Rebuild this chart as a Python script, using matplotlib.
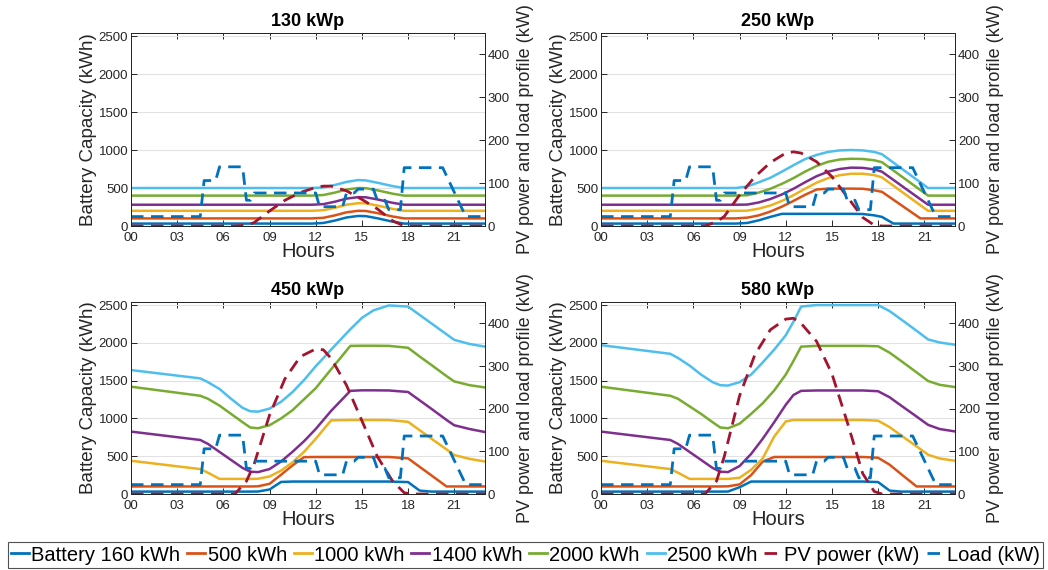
import matplotlib
matplotlib.use('Agg')
import matplotlib.pyplot as plt
from matplotlib.lines import Line2D

plt.rcParams['font.family'] = ['Liberation Sans', 'DejaVu Sans']

# Colores por defecto de MATLAB
colors = ['#0072BD', '#D95319', '#EDB120', '#7E2F8E', '#77AC30', '#4DBEEE']
pv_color = '#A2142F'
load_color = '#0072BD'
axc = '#262626'

battery_labels = ['Battery 160 kWh', '500 kWh', '1000 kWh', '1400 kWh', '2000 kWh', '2500 kWh']
panel_titles = ['130 kWp', '250 kWp', '450 kWp', '580 kWp']

# Perfil de carga (kW), igual en los cuatro casos
load_t = [0, 4.5, 4.75, 5.5, 5.75, 7.25, 7.5, 7.75, 8.0, 12.0, 12.25, 13.75, 14.0, 14.5,
          14.75, 15.75, 16.0, 16.5, 16.75, 17.5, 17.75, 20.25, 21.75, 23]
load_kw = [22, 22, 106, 106, 138, 138, 60, 60, 77, 77, 45, 45, 77, 77,
           86, 86, 60, 60, 38, 38, 136, 136, 22, 22]

# Potencia FV (kW)
pv_t = [0, 6.75, 7.5, 8, 9, 10, 11, 12, 12.5, 13, 14, 15, 16, 17, 17.75, 18.25, 23]
pv_130 = [0, 0, 2, 8, 35, 60, 78, 90, 93, 93, 82, 62, 40, 12, 0, 0, 0]
pv_250 = [0, 0, 10, 22, 72, 115, 148, 170, 173, 170, 150, 115, 68, 20, 2, 0, 0]
pv_450 = [0, 0, 30, 70, 185, 270, 322, 340, 338, 318, 255, 172, 88, 30, 3, 0, 0]
pv_580 = [0, 0, 30, 87, 230, 327, 385, 410, 412, 400, 358, 282, 168, 48, 6, 0, 0]

# Energia almacenada (kWh) - 130 kWp
t_130 = [0, 11.75, 12.5, 13.25, 14.0, 14.75, 15.25, 16.0, 17.0, 17.75, 23]
b130_160 = [32, 32, 40, 72, 112, 132, 130, 102, 57, 32, 32]
b130_500 = [100, 100, 108, 140, 180, 200, 198, 170, 125, 100, 100]
b130_1000 = [200, 200, 208, 240, 280, 300, 298, 270, 225, 200, 200]
b130_1400 = [280, 280, 288, 320, 360, 380, 378, 350, 305, 280, 280]
b130_2000 = [400, 400, 408, 440, 480, 500, 498, 470, 425, 400, 400]
b130_2500 = [500, 500, 508, 540, 580, 605, 600, 570, 525, 500, 500]

# 250 kWp
t_250 = [0, 8.75, 9.5, 10.25, 11.0, 11.75, 12.5, 13.25, 14.0, 14.75, 15.5, 16.25, 17.0,
         17.75, 18.25, 19.0, 20.0, 20.75, 21.25, 23]
b250_160 = [32, 32, 40, 75, 120, 160, 160, 160, 160, 160, 160, 160, 158, 140, 120, 32, 32, 32, 32, 32]
b250_500 = [100, 100, 110, 140, 190, 255, 330, 410, 480, 492, 492, 492, 490, 470, 450, 345, 205, 100, 100, 100]
b250_1000 = [200, 200, 202, 228, 270, 330, 405, 490, 570, 630, 668, 688, 688, 670, 640, 530, 383, 273, 200, 200]
b250_1400 = [280, 280, 282, 310, 355, 415, 490, 575, 655, 715, 750, 768, 765, 745, 715, 606, 461, 352, 280, 280]
b250_2000 = [400, 400, 405, 440, 490, 555, 630, 715, 790, 845, 875, 885, 882, 865, 840, 730, 583, 473, 400, 400]
b250_2500 = [500, 500, 520, 575, 635, 715, 800, 880, 935, 975, 995, 1000, 995, 975, 945, 834, 686, 574, 500, 500]

# 450 kWp
t_450 = [0, 4.5, 5.0, 5.75, 6.5, 7.25, 7.75, 8.25, 9.0, 9.75, 10.5, 11.25, 12.0, 13.0,
         14.25, 15.0, 15.75, 16.75, 18.0, 18.75, 19.5, 20.5, 21.0, 22.0, 23]
b450_160 = [32, 32, 32, 32, 32, 32, 32, 33, 60, 160, 165, 165, 165, 165,
            165, 165, 165, 165, 158, 45, 32, 32, 32, 32, 32]
b450_500 = [100, 100, 100, 100, 100, 100, 100, 102, 135, 255, 380, 488, 490, 490,
            490, 490, 490, 490, 472, 360, 249, 100, 100, 100, 100]
b450_1000 = [440, 330, 282, 200, 200, 200, 200, 202, 232, 310, 420, 560, 730, 975,
             980, 980, 980, 978, 955, 845, 735, 590, 516, 465, 430]
b450_1400 = [826, 715, 663, 557, 451, 345, 295, 290, 330, 430, 560, 700, 860, 1100,
             1365, 1372, 1372, 1370, 1350, 1240, 1130, 980, 910, 860, 820]
b450_2000 = [1420, 1300, 1260, 1170, 1060, 950, 880, 870, 910, 1000, 1110, 1255, 1400, 1650,
             1960, 1962, 1962, 1960, 1935, 1820, 1710, 1560, 1490, 1440, 1410]
b450_2500 = [1640, 1530, 1480, 1390, 1260, 1140, 1095, 1090, 1130, 1220, 1350, 1510, 1690, 1910,
             2180, 2330, 2430, 2495, 2480, 2370, 2260, 2113, 2040, 1985, 1950]

# 580 kWp
t_580 = [0, 4.5, 5.0, 5.75, 6.5, 7.25, 7.75, 8.25, 9.0, 9.75, 10.5, 11.25, 12.0, 12.5, 13.0,
         14.0, 15.0, 16.0, 17.0, 18.0, 18.75, 19.5, 20.5, 21.25, 22.0, 23]
b580_160 = [32, 32, 32, 32, 32, 32, 32, 33, 90, 165, 165, 165, 165, 165, 165,
            165, 165, 165, 165, 158, 45, 32, 32, 32, 32, 32]
b580_500 = [100, 100, 100, 100, 100, 100, 100, 102, 127, 250, 428, 490, 490, 490, 490,
            490, 490, 490, 490, 480, 388, 263, 100, 100, 100, 100]
b580_1000 = [440, 330, 282, 200, 200, 200, 200, 200, 215, 320, 470, 760, 960, 980, 980,
             980, 980, 980, 980, 970, 885, 775, 630, 520, 470, 440]
b580_1400 = [826, 715, 663, 557, 451, 345, 295, 290, 370, 530, 730, 950, 1180, 1310, 1365,
             1370, 1370, 1370, 1370, 1360, 1280, 1170, 1025, 915, 860, 828]
b580_2000 = [1420, 1300, 1260, 1160, 1060, 950, 880, 870, 930, 1060, 1200, 1370, 1580, 1760, 1950,
             1960, 1960, 1960, 1960, 1955, 1870, 1760, 1610, 1495, 1445, 1415]
b580_2500 = [1970, 1855, 1800, 1700, 1580, 1480, 1440, 1435, 1480, 1580, 1740, 1910, 2100, 2280, 2480,
             2500, 2500, 2500, 2500, 2500, 2420, 2310, 2160, 2045, 2005, 1975]

panels = [
    (t_130, [b130_160, b130_500, b130_1000, b130_1400, b130_2000, b130_2500], pv_130),
    (t_250, [b250_160, b250_500, b250_1000, b250_1400, b250_2000, b250_2500], pv_250),
    (t_450, [b450_160, b450_500, b450_1000, b450_1400, b450_2000, b450_2500], pv_450),
    (t_580, [b580_160, b580_500, b580_1000, b580_1400, b580_2000, b580_2500], pv_580),
]

positions = [
    [0.125, 0.6035, 0.3378, 0.3386],
    [0.5735, 0.6035, 0.3378, 0.3386],
    [0.125, 0.1333, 0.3378, 0.3368],
    [0.5735, 0.1333, 0.3378, 0.3368],
]

dash = (4.5, 2.7)

fig = plt.figure(figsize=(10.48, 5.70), dpi=100)

for (t, series, pv), pos, title in zip(panels, positions, panel_titles):
    ax = fig.add_axes(pos)
    for v, c in zip(series, colors):
        ax.plot(t, v, color=c, lw=1.8)
    ax.set_xlim(0, 23)
    ax.set_ylim(0, 2540)
    ax.set_yticks([0, 500, 1000, 1500, 2000, 2500])
    ax.set_xticks(range(0, 22, 3))
    ax.set_xticklabels(['%02d' % h for h in range(0, 22, 3)])
    ax.yaxis.grid(True, color='#e2e2e2', lw=0.8)
    ax.set_axisbelow(True)
    ax.tick_params(direction='in', top=True, right=False, length=4, width=0.7,
                   colors=axc, labelsize=9.5, pad=2)
    ax.tick_params(axis='x', pad=4)
    ax.set_xlabel('Hours', fontsize=14.5, color=axc, labelpad=-1)
    ax.set_ylabel('Battery Capacity (kWh)', fontsize=13.5, color=axc, labelpad=1)
    ax.set_title(title, fontsize=13, fontweight='bold', pad=5)

    ax2 = ax.twinx()
    ax2.plot(pv_t, pv, color=pv_color, lw=2, ls='--', dashes=dash)
    ax2.plot(load_t, load_kw, color=load_color, lw=2, ls='--', dashes=dash)
    ax2.set_ylim(0, 450)
    ax2.set_yticks([0, 100, 200, 300, 400])
    ax2.tick_params(direction='in', length=4, width=0.7, colors=axc, labelsize=9.5, pad=2)
    ax2.set_ylabel('PV power and load profile (kW)', fontsize=13, color=axc, labelpad=5)
    for a in (ax, ax2):
        for s in a.spines.values():
            s.set_color(axc)
            s.set_linewidth(0.7)

handles = [Line2D([], [], color=c, lw=2) for c in colors]
handles.append(Line2D([], [], color=pv_color, lw=2, ls='--', dashes=dash))
handles.append(Line2D([], [], color=load_color, lw=2, ls='--', dashes=dash))
labels = battery_labels + ['PV power (kW)', 'Load (kW)']

leg = fig.legend(handles, labels, loc='center', bbox_to_anchor=(0.5014, 0.0263), ncol=8,
                 fontsize=14.5, frameon=True, fancybox=False, handlelength=0.9,
                 handletextpad=0.1, columnspacing=0.35, borderpad=0.15, borderaxespad=0)
leg.get_frame().set_edgecolor(axc)
leg.get_frame().set_linewidth(0.8)

fig.savefig('out.png', dpi=100)
